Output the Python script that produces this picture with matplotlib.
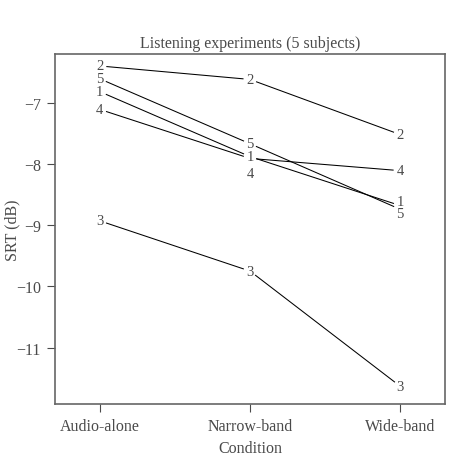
import matplotlib
matplotlib.use("Agg")
import matplotlib.pyplot as plt
import numpy as np

conditions = ["Audio-alone", "Narrow-band", "Wide-band"]
subjects = ["1", "2", "3", "4", "5"]
srt = {
    "1": [-6.82, -7.88, -8.68],
    "2": [-6.40, -6.62, -7.52],
    "3": [-8.93, -9.75, -11.63],
    "4": [-7.11, -7.91, -8.11],
    "5": [-6.61, -7.67, -8.74],
}

# label nudges (points) where numbers would sit on top of each other
nudge = {("4", 1): (0, -11), ("1", 2): (0, 3), ("5", 2): (0, -3)}
gap = 7  # pixels left blank round each number, like R's type="b"

grey = "#4a4a4a"
plt.rcParams["font.family"] = ["Liberation Serif", "DejaVu Serif"]
plt.rcParams["font.size"] = 11.5

fig = plt.figure(figsize=(4.57, 4.56), dpi=100)
ax = fig.add_axes([0.120, 0.112, 0.854, 0.768])
ax.set_xlim(0.70, 3.30)
ax.set_ylim(-11.92, -6.20)

x = [1, 2, 3]
inv = ax.transData.inverted()
for s in subjects:
    pts = ax.transData.transform(np.column_stack([x, srt[s]]))
    for a, b in zip(pts[:-1], pts[1:]):
        d = (b - a) / np.hypot(*(b - a))
        seg = inv.transform(np.array([a + d * gap, b - d * gap]))
        ax.plot(seg[:, 0], seg[:, 1], color="black", lw=0.75)
    for i, v in enumerate(srt[s]):
        dx, dy = nudge.get((s, i), (0, 0))
        ax.annotate(s, (x[i], v), xytext=(dx, dy), textcoords="offset points",
                    ha="center", va="center", color=grey, fontsize=10.5)

ax.set_xticks(x)
ax.set_xticklabels(conditions)
ax.set_yticks([-7, -8, -9, -10, -11])
ax.set_yticklabels(["\u22127", "\u22128", "\u22129", "\u221210", "\u221211"])
ax.tick_params(direction="out", length=6, width=0.8, color=grey, labelcolor=grey, pad=4)
for sp in ax.spines.values():
    sp.set_color("#666666")
    sp.set_linewidth(1.2)

ax.set_title("Listening experiments (5 subjects)", color=grey, fontsize=11.5, pad=5)
ax.set_xlabel("Condition", color=grey, va="center")
ax.set_ylabel("SRT (dB)", color=grey)
ax.yaxis.set_label_coords(-0.087, 0.5)
ax.xaxis.set_label_coords(0.5, -0.127)

fig.savefig("out.png", dpi=100)
